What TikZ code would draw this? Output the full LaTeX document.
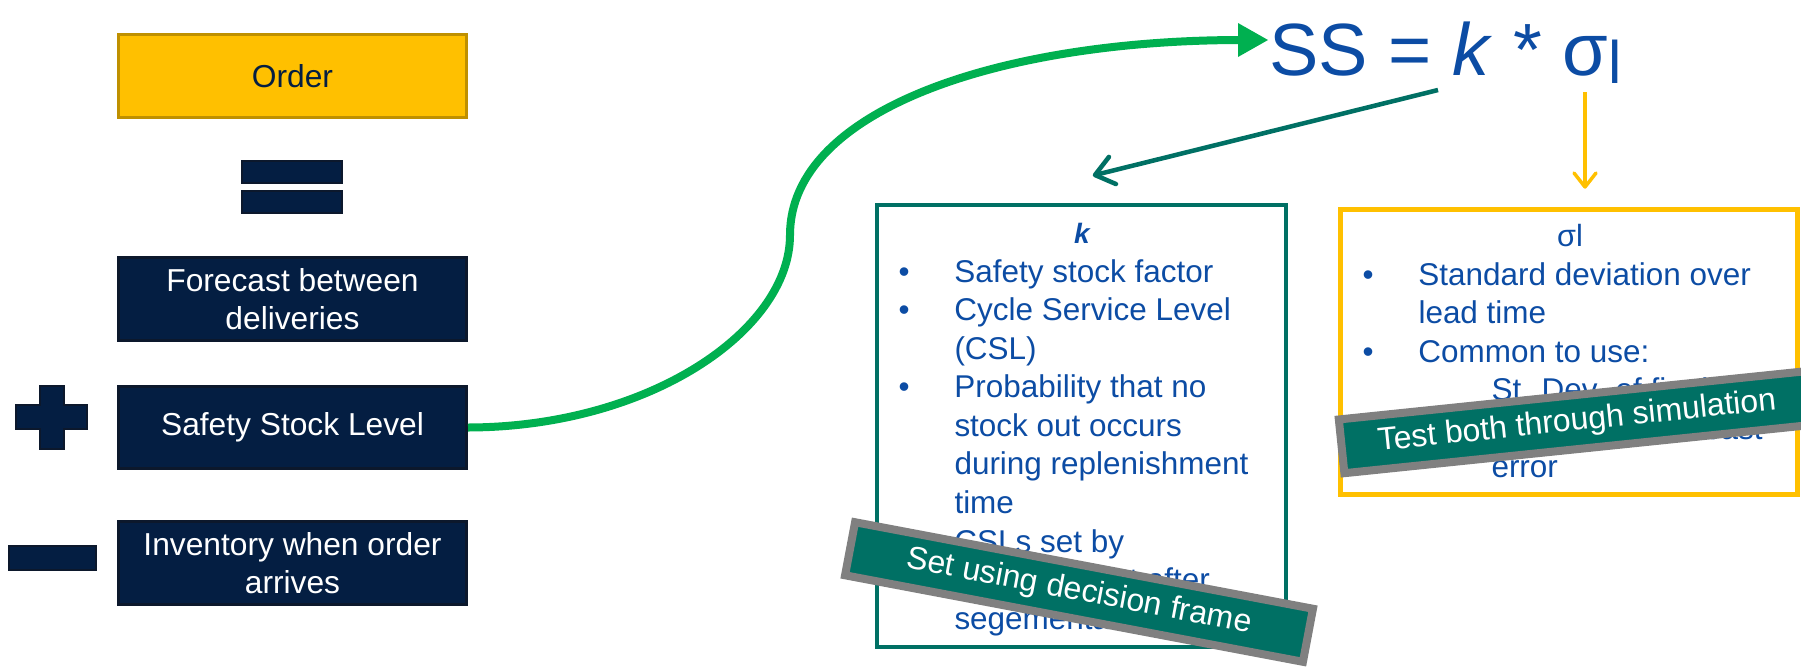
\documentclass[tikz,border=0pt]{standalone}
\usepackage{fontspec}
\setmainfont{Liberation Sans}

\definecolor{navyfill}{RGB}{4,30,66}
\definecolor{navyline}{RGB}{12,24,44}
\definecolor{orderfill}{RGB}{255,192,0}
\definecolor{orderline}{RGB}{191,144,0}
\definecolor{textblue}{RGB}{12,76,164}
\definecolor{tealline}{RGB}{0,112,100}
\definecolor{bannergrey}{RGB}{128,128,128}
\definecolor{arrowgreen}{RGB}{0,176,80}

\tikzset{every picture/.style={line width=0.75pt}}
\tikzset{
  termbox/.style={draw=navyline, fill=navyfill, line width=2.25pt, minimum width=261pt, minimum height=62pt, inner sep=0.75pt, align=center, text=white, font=\fontsize{23.8}{28.5}\selectfont},
  opbar/.style={draw=navyline, fill=navyfill, line width=1.5pt},
  pointlist/.style={anchor=north west, inner sep=0pt, align=left, text=textblue, font=\fontsize{23.6}{28.9}\selectfont},
  notebanner/.style={draw=bannergrey, fill=tealline, line width=6pt, text=white, inner sep=0.75pt, minimum height=40.5pt, font=\fontsize{24}{28}\selectfont},
}
\newcommand{\kbul}{\makebox[42pt][l]{\textbullet}}
\newcommand{\kind}{\hspace*{42pt}}
\newcommand{\ksub}{\hspace*{96.75pt}}

\begin{document}
\begin{tikzpicture}[x=0.75pt,y=0.75pt,yscale=-1,xscale=1]
	\useasboundingbox (0,0) rectangle (1801,668);

	% left column: order = forecast + safety - inventory
	\draw (292.5,76) node [termbox, fill=orderfill, draw=orderline, text=navyfill] (order) {Order};
	\draw [opbar] (242,161) rectangle (342,183);
	\draw [opbar] (242,191) rectangle (342,213);
	\draw (292.5,299) node [termbox] (fcst) {Forecast between\\deliveries};
	\draw (292.5,427.5) node [termbox] (safe) {Safety Stock Level};
	\draw (292.5,563) node [termbox] (inv) {Inventory when order\\arrives};
	\draw [opbar] (40,386) -- (64,386) -- (64,405) -- (87,405) -- (87,429) -- (64,429) -- (64,449) -- (40,449) -- (40,429) -- (16,429) -- (16,405) -- (40,405) -- cycle;
	\draw [opbar] (9,546) rectangle (96,570);

	% formula
	\draw (1269,75) node [anchor=base west, inner sep=0pt, text=textblue, font=\fontsize{55.5}{60}\selectfont] (ssform) {SS = \textit{k} * σ\raisebox{-6.5pt}{\fontsize{45}{45}\selectfont l}};
	\coordinate (grntail) at (1242,40);
	\coordinate (grntip) at (1268,40);
	\coordinate (kfrom) at (1438,90);
	\coordinate (kto) at (1095,175);
	\coordinate (sgfrom) at (1585,92);
	\coordinate (sgto) at (1585,187);

	% k box
	\draw (1081.5,426) node [draw=tealline, line width=3pt, minimum width=306.75pt, minimum height=332pt] (kbox) {};
	\draw (1082,233) node [inner sep=0pt, text=textblue, font=\fontsize{21}{24}\selectfont\bfseries\itshape] (ktitle) {k};
	\draw (898,259) node [pointlist] (klist) {\kbul Safety stock factor\\ \kbul Cycle Service Level\\ \kind (CSL)\\ \kbul Probability that no\\ \kind stock out occurs\\ \kind during replenishment\\ \kind time\\ \kbul CSLs set by\\ \kind management after\\ \kind segementation};

	% sigma box
	\draw (1569,352) node [draw=orderfill, line width=3.75pt, minimum width=342.75pt, minimum height=213.75pt] (sgbox) {};
	\draw (1570,236) node [inner sep=0pt, text=textblue, font=\fontsize{23}{26}\selectfont] (sgtitle) {σl};
	\draw (1362,262) node [pointlist] (sglist) {\kbul Standard deviation over\\ \kind lead time\\ \kbul Common to use:\\ \ksub St. Dev. of final\\ \ksub consensus forecast\\ \ksub error};

	% connectors
	\draw [color=arrowgreen, line width=6pt] (safe.east) .. controls (650,427) and (790,330) .. (790,235) .. controls (790,110) and (1000,40) .. (grntail);
	\draw [shift={(grntip)}, rotate=180] [fill=arrowgreen][draw opacity=0] (30,-17) -- (0,0) -- (30,17) -- cycle;
	\draw [color=tealline, line width=3.4pt] (kfrom) -- (kto);
	\draw [shift={(kto)}, rotate=345.5] [color=tealline, line width=3.4pt, line cap=round, line join=round] (18,-14) -- (0,0) -- (18,14);
	\draw [color=orderfill, line width=2.6pt] (sgfrom) -- (sgto);
	\draw [shift={(sgto)}, rotate=270] [color=orderfill, line width=2.6pt, line cap=round, line join=round] (14,-11) -- (0,0) -- (14,11);

	% banners
	\draw (1079,592) node [notebanner, minimum width=349.5pt, rotate=-10.7] (decnote) {Set using decision frame};
	\draw (1577,422) node [notebanner, minimum width=355pt, rotate=5.9] (simnote) {Test both through simulation};
\end{tikzpicture}
\end{document}
